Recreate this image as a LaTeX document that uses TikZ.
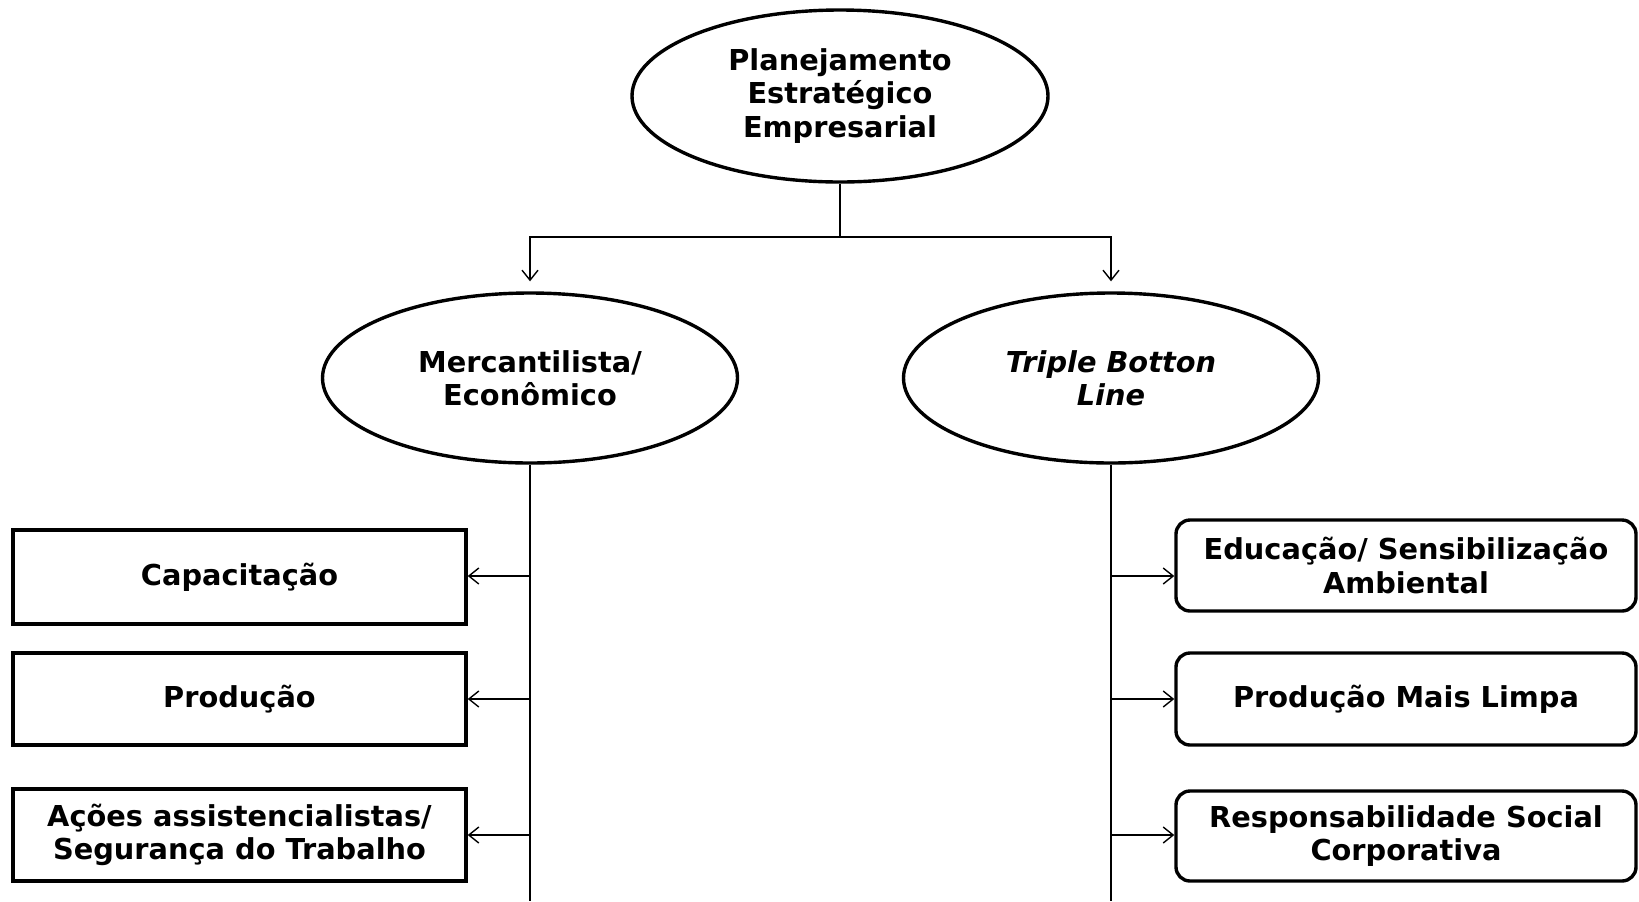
\documentclass[tikz,border=0pt]{standalone}
\usepackage{fontspec}
\setmainfont{DejaVu Sans}
\usetikzlibrary{shapes.geometric,arrows.meta}
\begin{document}
\begin{tikzpicture}[x=0.5pt,y=-0.5pt,
  every node/.style={font=\bfseries\fontsize{14.4}{16.6}\selectfont, align=center, inner sep=0pt},
  oval/.style={ellipse, draw, line width=1.7pt, minimum width=#1, minimum height=85pt},
  sqbox/.style={rectangle, draw, line width=1.7pt, minimum width=226.5pt, minimum height=#1},
  rbox/.style={rectangle, rounded corners=7pt, draw, line width=1.7pt, minimum width=230pt, minimum height=#1},
  conn/.style={line width=0.7pt},
  arr/.style={conn, -{Straight Barb[length=5pt,width=8pt]}}]
\useasboundingbox (0,0) rectangle (1639,901);
\fill[white] (0,0) rectangle (1639,901);
% ovals
\node[oval=208pt, minimum height=86pt] (top) at (840,96) {Planejamento\\Estratégico\\Empresarial};
\node[oval=207.5pt] (merc) at (530,378) {Mercantilista/\\Econômico};
\node[oval=207.5pt] (tbl) at (1111,378) {\itshape Triple Botton\\\itshape Line};
% left boxes
\node[sqbox=47pt] (cap) at (239.5,577) {Capacitação};
\node[sqbox=46pt] (prod) at (239.5,699) {Produção};
\node[sqbox=46pt] (acoes) at (239.5,835) {Ações assistencialistas/\\Segurança do Trabalho};
% right boxes
\node[rbox=45.5pt] (edu) at (1406,565.5) {Educação/ Sensibilização\\Ambiental};
\node[rbox=46pt] (pml) at (1406,699) {Produção Mais Limpa};
\node[rbox=45pt] (rsc) at (1406,836) {Responsabilidade Social\\Corporativa};
% connectors
\coordinate (j) at (840,237);
\coordinate (lb) at (530,901);
\coordinate (rb) at (1111,901);
\draw[conn] (top.south) -- (j);
\draw[arr, shorten >=5pt] (j) -| (merc.north);
\draw[arr, shorten >=5pt] (j) -| (tbl.north);
\draw[conn] (merc.south) -- (lb);
\draw[conn] (tbl.south) -- (rb);
\coordinate (l1) at (530,576);
\coordinate (l2) at (530,699);
\coordinate (l3) at (530,835);
\coordinate (r1) at (1111,576);
\coordinate (r2) at (1111,699);
\coordinate (r3) at (1111,835);
\draw[arr] (l1) -- (cap.east |- l1);
\draw[arr] (l2) -- (prod.east |- l2);
\draw[arr] (l3) -- (acoes.east |- l3);
\draw[arr] (r1) -- (edu.west |- r1);
\draw[arr] (r2) -- (pml.west |- r2);
\draw[arr] (r3) -- (rsc.west |- r3);
\end{tikzpicture}
\end{document}
